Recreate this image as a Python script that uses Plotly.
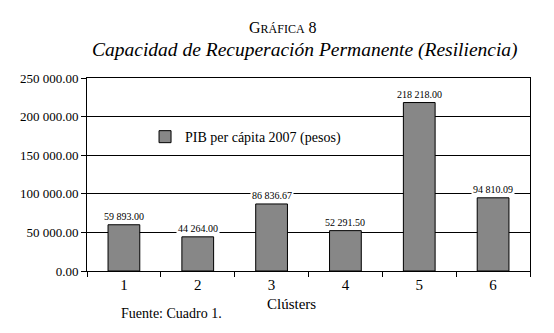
import plotly.graph_objects as go

clusters = ["1", "2", "3", "4", "5", "6"]
pib = [59893.00, 44264.00, 86836.67, 52291.50, 218218.00, 94810.09]
y_ticks = [0, 50000, 100000, 150000, 200000, 250000]
series_name = "PIB per cápita 2007 (pesos)"


def fmt(v):
    return f"{v:,.2f}".replace(",", " ")


FONT = "Liberation Serif"

fig = go.Figure()
fig.add_trace(go.Bar(
    x=clusters, y=pib, name=series_name,
    marker=dict(color="#878787", line=dict(color="black", width=1)),
    width=0.43, showlegend=True,
))

for i, v in enumerate(pib):
    fig.add_annotation(x=i, y=v, text=fmt(v), showarrow=False, yanchor="bottom",
                       yshift=1, bgcolor="white", borderpad=1,
                       font=dict(family=FONT, size=10, color="black"))

# figure is 546x325 and is offset by the page's 8px body margin
fig.add_annotation(x=(273 - 75) / 447, y=1.0, xref="paper", yref="paper", yshift=51,
                   yanchor="middle",
                   text="G<span style='font-size:12px'>RÁFICA</span> 8",
                   showarrow=False, font=dict(family=FONT, size=16, color="black"))
fig.add_annotation(x=(295 - 75) / 447, y=1.0, xref="paper", yref="paper", yshift=28,
                   yanchor="middle",
                   text="<i>Capacidad de Recuperación Permanente (Resiliencia)</i>",
                   showarrow=False, font=dict(family=FONT, size=19.5, color="black"))
fig.add_annotation(x=(281 - 75) / 447, y=0, xref="paper", yref="paper", yshift=-33,
                   yanchor="middle", text="Clústers",
                   showarrow=False, font=dict(family=FONT, size=15, color="black"))
fig.add_annotation(x=(107 - 75) / 447, y=0, xref="paper", yref="paper", yshift=-42,
                   xanchor="left", yanchor="middle", text="Fuente: Cuadro 1.",
                   showarrow=False, font=dict(family=FONT, size=14, color="black"))

fig.update_layout(
    width=546, height=325,
    margin=dict(l=75, r=24, t=70, b=62),
    paper_bgcolor="white", plot_bgcolor="white",
    font=dict(family=FONT, size=13, color="black"),
    legend=dict(x=0.131, y=0.694, xanchor="left", yanchor="middle",
                bgcolor="rgba(0,0,0,0)", font=dict(family=FONT, size=14),
                itemwidth=30),
    xaxis=dict(type="category", tickson="boundaries", ticks="outside", ticklen=5,
               tickcolor="black", showline=True, linecolor="black", linewidth=1,
               mirror=True, showgrid=False, range=[-0.5, 5.5],
               tickfont=dict(size=15)),
    yaxis=dict(range=[0, 250000], tickvals=y_ticks, ticktext=[fmt(v) for v in y_ticks],
               ticks="outside", ticklen=5, tickcolor="black", showline=True,
               linecolor="black", linewidth=1, mirror=True, showgrid=True,
               gridcolor="black", gridwidth=1, zeroline=False,
               tickfont=dict(size=13)),
)

fig.write_html("out.html")
